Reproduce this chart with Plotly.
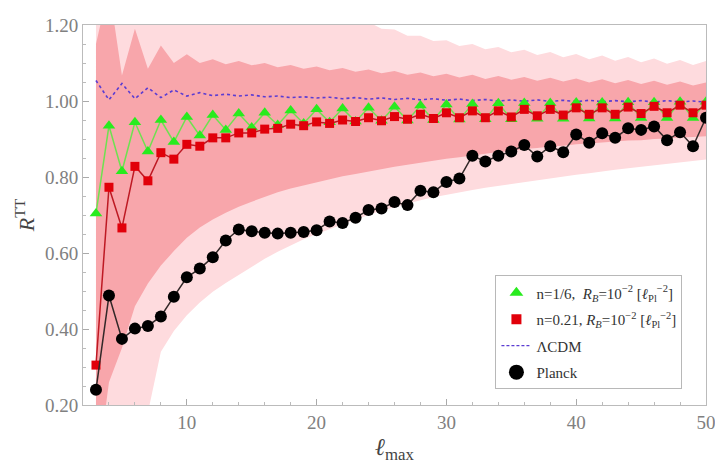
import plotly.graph_objects as go

ell = list(range(3, 51))

green_n16 = [0.704, 0.935, 0.815, 0.944, 0.867, 0.950, 0.892, 0.958, 0.909, 0.963,
             0.924, 0.967, 0.930, 0.969, 0.937, 0.975, 0.941, 0.978, 0.944, 0.980,
             0.946, 0.982, 0.948, 0.985, 0.949, 0.988, 0.950, 0.991, 0.951, 0.992,
             0.952, 0.994, 0.952, 0.995, 0.953, 0.995, 0.953, 0.996, 0.954, 0.996,
             0.954, 0.997, 0.955, 0.997, 0.955, 0.998, 0.955, 0.998]

red_n021 = [0.305, 0.773, 0.666, 0.828, 0.790, 0.864, 0.847, 0.886, 0.881, 0.903,
            0.903, 0.916, 0.916, 0.926, 0.928, 0.939, 0.935, 0.945, 0.941, 0.950,
            0.946, 0.956, 0.948, 0.959, 0.952, 0.965, 0.954, 0.969, 0.956, 0.974,
            0.956, 0.974, 0.958, 0.978, 0.961, 0.978, 0.963, 0.982, 0.965, 0.982,
            0.965, 0.984, 0.967, 0.986, 0.969, 0.989, 0.969, 0.989]

lcdm = [1.054, 1.003, 1.046, 1.006, 1.035, 1.009, 1.029, 1.013, 1.022, 1.014,
        1.018, 1.013, 1.016, 1.011, 1.013, 1.009, 1.011, 1.008, 1.010, 1.006,
        1.009, 1.005, 1.008, 1.004, 1.007, 1.003, 1.006, 1.002, 1.005, 1.001,
        1.004, 1.000, 1.003, 0.999, 1.003, 0.999, 1.002, 0.998, 1.002, 0.998,
        1.001, 0.998, 1.001, 0.997, 1.001, 0.997, 1.000, 0.997]

planck = [0.240, 0.488, 0.374, 0.401, 0.408, 0.433, 0.485, 0.536, 0.559, 0.589,
          0.633, 0.662, 0.657, 0.653, 0.651, 0.653, 0.655, 0.660, 0.683, 0.679,
          0.693, 0.713, 0.717, 0.734, 0.726, 0.764, 0.760, 0.787, 0.796, 0.856,
          0.841, 0.856, 0.867, 0.884, 0.854, 0.881, 0.865, 0.912, 0.890, 0.915,
          0.903, 0.928, 0.924, 0.933, 0.897, 0.918, 0.881, 0.956]

band1_upper = [1.15, 1.30, 1.067, 1.19, 1.085, 1.146, 1.100, 1.123, 1.100, 1.110,
               1.097, 1.105, 1.094, 1.100, 1.089, 1.095, 1.085, 1.091, 1.081, 1.087,
               1.077, 1.083, 1.073, 1.079, 1.069, 1.075, 1.065, 1.072, 1.062, 1.069,
               1.058, 1.066, 1.056, 1.063, 1.053, 1.061, 1.051, 1.059, 1.049, 1.057,
               1.047, 1.055, 1.045, 1.053, 1.043, 1.051, 1.041, 1.049]

band1_lower = [0.00, 0.26, 0.35, 0.46, 0.52, 0.567, 0.605, 0.640, 0.667, 0.688,
               0.706, 0.722, 0.735, 0.748, 0.760, 0.770, 0.778, 0.787, 0.794, 0.802,
               0.808, 0.815, 0.820, 0.827, 0.832, 0.838, 0.842, 0.848, 0.852, 0.857,
               0.861, 0.866, 0.869, 0.874, 0.876, 0.880, 0.882, 0.886, 0.888, 0.891,
               0.893, 0.896, 0.897, 0.900, 0.901, 0.904, 0.905, 0.907]

band2_upper = [1.60, 1.70, 1.55, 1.50, 1.45, 1.42, 1.38, 1.36, 1.33, 1.32,
               1.30, 1.29, 1.27, 1.265, 1.25, 1.245, 1.235, 1.232, 1.222, 1.220,
               1.210, 1.208, 1.190, 1.188, 1.172, 1.172, 1.158, 1.160, 1.145, 1.150,
               1.136, 1.142, 1.128, 1.135, 1.121, 1.129, 1.115, 1.124, 1.110, 1.120,
               1.106, 1.116, 1.102, 1.112, 1.098, 1.108, 1.095, 1.105]

band2_lower = [-0.60, -0.40, -0.20, -0.03, 0.18, 0.34, 0.395, 0.436, 0.470, 0.498,
               0.521, 0.543, 0.565, 0.585, 0.603, 0.620, 0.636, 0.650, 0.663, 0.676,
               0.689, 0.700, 0.711, 0.721, 0.731, 0.739, 0.747, 0.754, 0.761, 0.766,
               0.772, 0.777, 0.782, 0.787, 0.792, 0.797, 0.801, 0.806, 0.810, 0.815,
               0.819, 0.823, 0.827, 0.831, 0.835, 0.839, 0.842, 0.846]

xticks = [10, 20, 30, 40, 50]
yticks = [0.2, 0.4, 0.6, 0.8, 1.0, 1.2]
yticklabels = ["0.20", "0.40", "0.60", "0.80", "1.00", "1.20"]

SERIF = "Liberation Serif, Times New Roman, serif"
LIGHT = "rgb(254,219,222)"
DARK = "rgb(248,166,171)"

fig = go.Figure()

# 2-sigma band
fig.add_trace(go.Scatter(x=ell, y=band2_lower, mode="lines", line=dict(width=0),
                         showlegend=False, hoverinfo="skip"))
fig.add_trace(go.Scatter(x=ell, y=band2_upper, mode="lines", line=dict(width=0),
                         fill="tonexty", fillcolor=LIGHT, showlegend=False, hoverinfo="skip"))
# 1-sigma band
fig.add_trace(go.Scatter(x=ell, y=band1_lower, mode="lines", line=dict(width=0),
                         showlegend=False, hoverinfo="skip"))
fig.add_trace(go.Scatter(x=ell, y=band1_upper, mode="lines", line=dict(width=0),
                         fill="tonexty", fillcolor=DARK, showlegend=False, hoverinfo="skip"))

# LCDM
fig.add_trace(go.Scatter(x=ell, y=lcdm, mode="lines",
                         line=dict(color="rgb(90,60,210)", width=1.6, dash="3px,3px"),
                         showlegend=False))
# n = 1/6
fig.add_trace(go.Scatter(x=ell, y=green_n16, mode="lines+markers",
                         line=dict(color="rgb(110,225,80)", width=1.5),
                         marker=dict(symbol="triangle-up", size=11, color="rgb(40,235,30)"),
                         showlegend=False))
# n = 0.21
fig.add_trace(go.Scatter(x=ell, y=red_n021, mode="lines+markers",
                         line=dict(color="rgb(190,25,35)", width=1.5),
                         marker=dict(symbol="square", size=9, color="rgb(225,0,10)"),
                         showlegend=False))
# Planck
fig.add_trace(go.Scatter(x=ell, y=planck, mode="lines+markers",
                         line=dict(color="rgb(50,40,40)", width=1.5),
                         marker=dict(symbol="circle", size=12, color="black"),
                         showlegend=False))

# legend entries
fig.add_trace(go.Scatter(x=[None], y=[None], mode="markers", legendgroup="g1",
                         marker=dict(symbol="triangle-up", size=12, color="rgb(40,235,30)"),
                         name="n=1/6,  <i>R</i><sub><i>B</i></sub>=10<sup>−2</sup> [<i>ℓ</i><sub>Pl</sub><sup>−2</sup>]"))
fig.add_trace(go.Scatter(x=[None], y=[None], mode="markers", legendgroup="g2",
                         marker=dict(symbol="square", size=10, color="rgb(225,0,10)"),
                         name="n=0.21, <i>R</i><sub><i>B</i></sub>=10<sup>−2</sup> [<i>ℓ</i><sub>Pl</sub><sup>−2</sup>]"))
fig.add_trace(go.Scatter(x=[None], y=[None], mode="lines", legendgroup="g3",
                         line=dict(color="rgb(90,60,210)", width=1.4, dash="3px,2px"),
                         name="ΛCDM"))
fig.add_trace(go.Scatter(x=[None], y=[None], mode="markers", legendgroup="g4",
                         marker=dict(symbol="circle", size=15, color="black"),
                         name="Planck"))

# page body has an 8px default margin; size the figure so the plot lands where the reference has it
fig.update_layout(
    width=715, height=460,
    margin=dict(l=75, r=15, t=7, b=63),
    paper_bgcolor="white", plot_bgcolor="white",
    font=dict(family=SERIF, color="#777777", size=15),
    legend=dict(x=0.662, y=0.341, xanchor="left", yanchor="top",
                traceorder="grouped",
                bgcolor="white", bordercolor="#b8b8b8", borderwidth=1,
                font=dict(family=SERIF, size=15, color="#333333"),
                tracegroupgap=4, itemwidth=30),
    xaxis=dict(range=[2, 50], tickvals=xticks, ticks="inside", ticklen=6,
               tickcolor="#aaaaaa", showgrid=False, zeroline=False,
               showline=True, linecolor="#bbbbbb", linewidth=1, mirror=True,
               ticklabeloverflow="allow",
               minor=dict(dtick=2, tick0=0, ticks="inside", ticklen=3, tickcolor="#bbbbbb"),
               tickfont=dict(family=SERIF, size=19, color="#808080"),
               title=dict(text="<i>ℓ</i><sub>max</sub>", standoff=6,
                          font=dict(family=SERIF, size=24, color="#444444"))),
    yaxis=dict(range=[0.2, 1.2], tickvals=yticks, ticktext=yticklabels,
               ticks="inside", ticklen=6, tickcolor="#aaaaaa",
               showgrid=False, zeroline=False,
               showline=True, linecolor="#bbbbbb", linewidth=1, mirror=True,
               ticklabeloverflow="allow",
               minor=dict(dtick=0.05, tick0=0, ticks="inside", ticklen=3, tickcolor="#bbbbbb"),
               tickfont=dict(family=SERIF, size=19, color="#808080"),
               title=dict(text="<i>R</i><sup>TT</sup>", standoff=4,
                          font=dict(family=SERIF, size=22, color="#444444"))),
)

fig.write_html("out.html")
